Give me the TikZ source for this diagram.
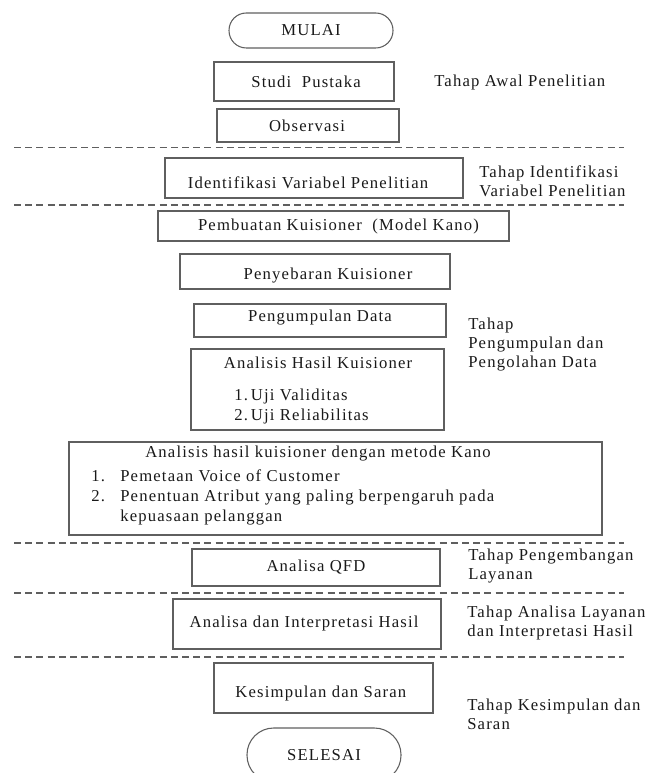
\documentclass[tikz,border=0pt]{standalone}
\usepackage{fontspec}
\setmainfont[LetterSpace=7]{Liberation Serif}

\begin{document}
\begin{tikzpicture}[
    x=0.75pt, y=-0.75pt,
    % Estilo para las cajas del proceso
    caja/.style={draw=garis, line width=0.8pt, inner sep=0pt},
    % Estilo para MULAI / SELESAI
    terminal/.style={caja, rounded corners=#1, isi},
    % Estilo para las etiquetas de cada tahap
    tahap/.style={
        anchor=west, align=left, inner sep=0pt,
        font=\fontsize{12.5}{14.25}\selectfont, text=teks
    },
    % Texto libre dentro de las cajas
    isi/.style={inner sep=0pt, align=left, font=\fontsize{12.5}{15}\selectfont, text=teks},
    % Líneas separadoras entre etapas
    pemisah/.style={draw=garis, line width=1pt, dash pattern=on 5.25pt off 3.15pt}
]
    % Configuración de colores
    \definecolor{garis}{RGB}{95, 95, 95}
    \definecolor{teks}{RGB}{25, 25, 25}

    % Marco de la figura
    \useasboundingbox (0,0) rectangle (648,773);
    \clip (0,0) rectangle (648,773);

    % Terminales de inicio y fin
    \node[terminal=13pt, minimum width=123pt, minimum height=26.25pt] (mulai) at (311,30.5) {MULAI};
    \node[terminal=20pt, minimum width=115.5pt, minimum height=40.5pt] (selesai) at (324,755) {SELESAI};

    % Cajas simples
    % Parámetros: {nombre / izq / arriba / der / abajo / dx / dy / texto}
    % dx, dy: desplazamiento del texto respecto al centro de la caja
    \foreach \nama/\xa/\ya/\xb/\yb/\dx/\dy/\tulisan in {
        studi/214/62/394/101/2/0/{Studi\ \ Pustaka},
        observasi/217/109/399/142/-1/0/Observasi,
        identifikasi/165/158/463/198/-6/5/Identifikasi Variabel Penelitian,
        pembuatan/158/211/509/241/5/0/{Pembuatan Kuisioner\ \ (Model Kano)},
        penyebaran/180/254/450/289/13/4.5/Penyebaran Kuisioner,
        pengumpulan/194/304/446/337/0/-2.5/Pengumpulan Data,
        qfd/192/549/440/586/0/0/Analisa QFD,
        interpretasi/173/599/441/649/-3/-1/Analisa dan Interpretasi Hasil,
        kesimpulan/214/663/433/713/0/5/Kesimpulan dan Saran
    }{
        \node[caja, minimum width={(\xb-\xa)*0.75pt}, minimum height={(\yb-\ya)*0.75pt}]
            (\nama) at ({(\xa+\xb)/2},{(\ya+\yb)/2}) {};
        \node[isi] (\nama-teks) at ({(\xa+\xb)/2+\dx},{(\ya+\yb)/2+\dy}) {\tulisan};
    }

    % Caja del análisis de validez y fiabilidad
    \node[caja, minimum width=189.75pt, minimum height=60.75pt] (analisis) at (317.5,389.5) {};
    \node[isi] (analisis-judul) at (318,363) {Analisis Hasil Kuisioner};
    \node[isi, anchor=west] (analisis-daftar) at (234,406.5)
        {\makebox[12.5pt][l]{1.}Uji Validitas\\
         \makebox[12.5pt][l]{2.}Uji Reliabilitas};

    % Caja del método Kano
    \node[caja, minimum width=399.75pt, minimum height=69.75pt] (kano) at (335.5,488.5) {};
    \node[isi] (kano-judul) at (318,454) {Analisis hasil kuisioner dengan metode Kano};
    \node[isi, anchor=west] (kano-daftar) at (91,497)
        {\makebox[21.75pt][l]{1.}Pemetaan Voice of Customer\\
         \makebox[21.75pt][l]{2.}Penentuan Atribut yang paling berpengaruh pada\\
         \hspace*{21.75pt}kepuasaan pelanggan};

    % Líneas separadoras
    \foreach \y in {147.5, 205, 543, 593, 657}{
        \draw[pemisah] (14,\y) -- (624,\y);
    }

    % Etiquetas de las etapas
    \node[tahap] (tahap-awal) at (434,82) {Tahap Awal Penelitian};
    \node[tahap] (tahap-identifikasi) at (479,181.5) {Tahap Identifikasi\\Variabel Penelitian};
    \node[tahap] (tahap-olah) at (468,345) {Tahap\\Pengumpulan dan\\Pengolahan Data};
    \node[tahap] (tahap-kembang) at (468,566.5) {Tahap Pengembangan\\Layanan};
    \node[tahap] (tahap-analisa) at (467,622.5) {Tahap Analisa Layanan\\dan Interpretasi Hasil};
    \node[tahap] (tahap-simpul) at (467,714.5) {Tahap Kesimpulan dan\\Saran};

\end{tikzpicture}
\end{document}
